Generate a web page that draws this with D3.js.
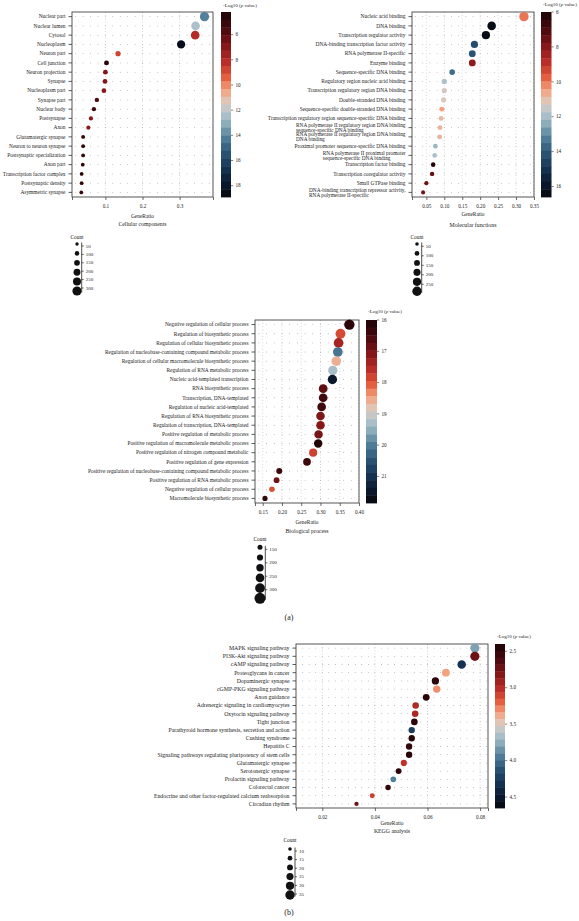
<!DOCTYPE html>
<html><head><meta charset="utf-8">
<script src="https://cdn.jsdelivr.net/npm/d3@7/dist/d3.min.js"></script>
<style>
body{margin:0;background:#fff}
svg{display:block}
text{font-family:"Liberation Serif","DejaVu Serif",serif;fill:#222}
</style></head>
<body><svg id="c" width="579" height="921"></svg>
<script>
// ---------------- DATA ----------------
const ccTerms = ["Nuclear part","Nuclear lumen","Cytosol","Nucleoplasm","Neuron part","Cell junction","Neuron projection","Synapse","Nucleoplasm part","Synapse part","Nuclear body","Postsynapse","Axon","Glutamatergic synapse","Neuron to neuron synapse","Postsynaptic specialization","Axon part","Transcription factor complex","Postsynaptic density","Asymmetric synapse"];
const ccRatio = [0.367,0.343,0.342,0.304,0.134,0.103,0.100,0.099,0.096,0.077,0.069,0.061,0.054,0.040,0.040,0.040,0.039,0.036,0.036,0.035];
const ccLogP  = [14.2,12.4,8.0,18.5,8.8,4.6,6.9,6.9,7.0,5.7,5.1,6.9,7.1,4.8,4.8,4.9,4.9,4.9,4.9,4.9];
const ccCount = [300,275,275,260,130,115,112,110,108,95,90,85,80,70,70,70,68,66,66,64];
const ccXTicks = [0.1,0.2,0.3];
const ccColorTicks = [6,8,10,12,14,16,18];
const ccLegendCounts = [50,100,150,200,250,300];
const ccLegendTicks = [50,100,150,200,250,300];

const mfTerms = ["Nucleic acid binding","DNA binding","Transcription regulator activity","DNA-binding transcription factor activity","RNA polymerase II-specific","Enzyme binding","Sequence-specific DNA binding","Regulatory region nucleic acid binding","Transcription regulatory region DNA binding","Double-stranded DNA binding","Sequence-specific double-stranded DNA binding","Transcription regulatory region sequence-specific DNA binding","RNA polymerase II regulatory region DNA binding\nsequence-specific DNA binding","RNA polymerase II regulatory region DNA binding\nDNA binding","Proximal promoter sequence-specific DNA binding","RNA polymerase II proximal promoter\nsequence-specific DNA binding","Transcription factor binding","Transcription coregulator activity","Small GTPase binding","DNA-binding transcription repressor activity,\nRNA polymerase II-specific"];
const mfRatio = [0.322,0.232,0.216,0.184,0.178,0.178,0.122,0.100,0.100,0.098,0.093,0.091,0.088,0.087,0.075,0.073,0.069,0.066,0.050,0.041];
const mfLogP  = [10.0,16.4,16.4,14.3,14.1,8.1,13.6,11.9,11.3,11.2,10.45,10.9,10.8,10.8,12.15,11.95,6.2,7.4,7.5,7.6];
const mfCount = [300,265,250,205,190,190,135,120,115,113,110,108,105,103,95,93,90,88,75,70];
const mfXTicks = [0.05,0.10,0.15,0.20,0.25,0.30,0.35];
const mfColorTicks = [6,8,10,12,14,16];
const mfLegendCounts = [50,100,150,200,250,300];
const mfLegendTicks = [50,100,150,200,250];

const bpTerms = ["Negative regulation of cellular process","Regulation of biosynthetic process","Regulation of cellular biosynthetic process","Regulation of nucleobase-containing compound metabolic process","Regulation of cellular macromolecule biosynthetic process","Regulation of RNA metabolic process","Nucleic acid-templated transcription","RNA biosynthetic process","Transcription, DNA-templated","Regulation of nucleic acid-templated","Regulation of RNA biosynthetic process","Regulation of transcription, DNA-templated","Positive regulation of metabolic process","Positive regulation of macromolecule metabolic process","Positive regulation of nitrogen compound metabolic","Positive regulation of gene expression","Positive regulation of nucleobase-containing compound metabolic process","Positive regulation of RNA metabolic process","Negative regulation of cellular process","Macromolecule biosynthetic process"];
const bpHighlight = ["Regulation of cellular macromolecule biosynthetic process","Positive regulation of macromolecule metabolic process","Macromolecule biosynthetic process"];
const bpRatio = [0.375,0.352,0.347,0.345,0.341,0.332,0.331,0.307,0.307,0.303,0.300,0.300,0.295,0.294,0.281,0.265,0.193,0.186,0.174,0.156];
const bpLogP  = [16.2,17.9,17.4,20.1,18.6,19.3,21.45,16.75,16.45,16.45,17.05,17.1,16.95,16.1,17.8,16.4,16.4,16.9,17.95,16.25];
const bpCount = [375,352,347,345,341,332,331,307,306,303,300,299,295,294,281,265,193,186,174,156];
const bpXTicks = [0.15,0.20,0.25,0.30,0.35,0.40];
const bpColorTicks = [16,17,18,19,20,21];
const bpLegendCounts = [150,200,250,300,350,400];
const bpLegendTicks = [150,200,250,300];

const keggTerms = ["MAPK signaling pathway","PI3K-Akt signaling pathway","cAMP signaling pathway","Proteoglycans in cancer","Dopaminergic synapse","cGMP-PKG signaling pathway","Axon guidance","Adrenergic signaling in cardiomyocytes","Oxytocin signaling pathway","Tight junction","Parathyroid hormone synthesis, secretion and action","Cushing syndrome","Hepatitis C","Signaling pathways regulating pluripotency of stem cells","Glutamatergic synapse","Serotonergic synapse","Prolactin signaling pathway","Colorectal cancer","Endocrine and other factor-regulated calcium reabsorption","Circadian rhythm"];
const keggRatio = [0.078,0.078,0.073,0.067,0.063,0.0635,0.0595,0.0555,0.0553,0.055,0.054,0.054,0.053,0.053,0.051,0.049,0.047,0.045,0.039,0.033];
const keggLogP  = [3.8,2.74,4.31,3.35,2.47,3.3,2.47,2.98,2.96,2.49,4.25,2.47,2.51,2.47,3.03,2.49,3.93,2.51,3.08,2.74];
const keggCount = [34,34,31,28,26,26,24,23,23,23,22,22,22,22,21,20,19,18,16,13];
const keggXTicks = [0.02,0.04,0.06,0.08];
const keggColorTicks = [2.5,3.0,3.5,4.0,4.5];
const keggLegendCounts = [10,15,20,25,30,35];
const keggLegendTicks = [10,15,20,25,30,35];

// ---------------- STYLE ----------------
const rampStops = [[0,"#1a0406"],[0.1,"#4d0a0f"],[0.2,"#8e1a1c"],[0.28,"#bf3129"],[0.35,"#e35a3c"],[0.42,"#f4a07c"],[0.48,"#e2c5b5"],[0.54,"#b9c8cf"],[0.61,"#88aab8"],[0.68,"#527f9a"],[0.76,"#2b5576"],[0.85,"#163252"],[0.93,"#0b182d"],[1,"#05070d"]];
const ramp = d3.scaleLinear().domain(rampStops.map(s=>s[0])).range(rampStops.map(s=>s[1])).interpolate(d3.interpolateRgb).clamp(true);
const NB = 24;
const svg = d3.select("#c");

function drawPanel(p){
  const g = svg.append("g");
  const n = p.terms.length;
  const fs = p.labelSize || 5.4;
  const x = d3.scaleLinear().domain(p.xDomain).range([p.left,p.right]);
  const y = d3.scalePoint().domain(d3.range(n)).range([p.top,p.bottom]).padding(0.5);
  const cs = d3.scaleLinear().domain(p.cDomain).range([0,1]).clamp(true);
  const color = v => ramp(cs(v));
  const r = d3.scaleLinear().domain([p.legendCounts[0],p.legendCounts[p.legendCounts.length-1]]).range(p.rRange);

  // grid dots
  const gx = d3.range(p.gridStart, p.xDomain[1], p.gridStep);
  const grid = g.append("g");
  d3.range(n).forEach(i=>{
    gx.forEach(v=>{
      grid.append("circle").attr("cx",x(v)).attr("cy",y(i)).attr("r",0.42).attr("fill","#777");
    });
  });
  p.xTicks.forEach(t=>{
    g.append("line").attr("x1",x(t)).attr("x2",x(t)).attr("y1",p.top).attr("y2",p.bottom)
      .attr("stroke","#999").attr("stroke-width",0.5).attr("stroke-dasharray","0.8,2.4");
  });
  g.append("rect").attr("x",p.left).attr("y",p.top).attr("width",p.right-p.left).attr("height",p.bottom-p.top)
    .attr("fill","none").attr("stroke","#444").attr("stroke-width",0.9);

  // x axis
  const endTicks = [p.xDomain[0],p.xDomain[1]].filter(v=>!p.xTicks.some(t=>Math.abs(t-v)<1e-9));
  const xa = d3.axisBottom(x).tickValues(p.xTicks.concat(endTicks)).tickSize(3).tickPadding(4.5)
    .tickFormat(v => endTicks.includes(v) ? "" : d3.format(p.xFmt)(v));
  const xg = g.append("g").attr("transform",`translate(0,${p.bottom})`).call(xa);
  xg.select(".domain").remove();
  xg.selectAll("line").attr("stroke","#444").attr("stroke-width",0.8);
  xg.selectAll("text").attr("font-size",5.2).attr("font-family","Liberation Serif").attr("fill","#222");

  // y axis ticks + labels
  const yg = g.append("g");
  d3.range(n).forEach(i=>{
    yg.append("line").attr("x1",p.left-3.5).attr("x2",p.left).attr("y1",y(i)).attr("y2",y(i)).attr("stroke","#333").attr("stroke-width",0.8);
    const lines = p.terms[i].split("\n");
    const red = p.highlight && p.highlight.includes(p.terms[i]);
    const t = yg.append("text").attr("font-size",fs).attr("fill",red?"#d4402c":"#222");
    if(lines.length===1){
      t.attr("x",p.left-6.5).attr("y",y(i)).attr("dy","0.33em").attr("text-anchor","end").text(lines[0]);
    } else {
      t.attr("font-size",5.3);
      lines.forEach((ln,k)=>{
        t.append("tspan").attr("x",0).attr("y",y(i)+(k===0?-2.3:2.5)).attr("dy","0.33em").text(ln);
      });
      const w = d3.max(t.selectAll("tspan").nodes(),nd=>nd.getComputedTextLength());
      t.attr("text-anchor","start").selectAll("tspan").attr("x",p.left-6.5-w);
    }
  });

  // bubbles
  g.append("g").selectAll("circle").data(d3.range(n)).join("circle")
    .attr("cx",i=>x(p.ratio[i])).attr("cy",i=>y(i)).attr("r",i=>r(p.count[i]))
    .attr("fill",i=>color(p.logp[i]));

  // titles
  g.append("text").attr("x",(p.left+p.right)/2).attr("y",p.xTitleY).attr("text-anchor","middle").attr("font-size",5.4).text("GeneRatio");
  g.append("text").attr("x",(p.left+p.right)/2).attr("y",p.panelTitleY).attr("text-anchor","middle").attr("font-size",5.8).text(p.title);

  // colorbar
  const cbH = p.bottom - p.top;
  const cb = g.append("g");
  d3.range(NB).forEach(k=>{
    cb.append("rect").attr("x",p.cbX).attr("y",p.top + k*cbH/NB).attr("width",p.cbW).attr("height",cbH/NB+0.4)
      .attr("fill",ramp((k+0.5)/NB));
  });
  const cy = d3.scaleLinear().domain(p.cDomain).range([p.top,p.bottom]);
  p.colorTicks.forEach(t=>{
    cb.append("line").attr("x1",p.cbX+p.cbW).attr("x2",p.cbX+p.cbW+2.2).attr("y1",cy(t)).attr("y2",cy(t)).attr("stroke","#333").attr("stroke-width",0.6);
    cb.append("text").attr("x",p.cbX+p.cbW+4.5).attr("y",cy(t)).attr("dy","0.33em").attr("font-size",5.2).text(d3.format(p.cFmt)(t));
  });
  const ct = cb.append("text").attr("x",p.cbTitleX).attr("y",p.cbTitleY).attr("font-size",5);
  ct.append("tspan").text("-Log10 (");
  ct.append("tspan").attr("font-style","italic").text("p");
  ct.append("tspan").text(" value)");

  // size legend
  const L = p.leg;
  const lg = g.append("g");
  lg.append("text").attr("x",L.x).attr("y",L.titleY).attr("text-anchor","middle").attr("font-size",5.4).text("Count");
  p.legendCounts.forEach((c,k)=>{
    lg.append("circle").attr("cx",L.x).attr("cy",L.dotY0+k*L.step).attr("r",r(c)).attr("fill","#111");
  });
  const ly = d3.scaleLinear().domain([p.legendTicks[0],p.legendTicks[p.legendTicks.length-1]]).range([L.tickY0,L.tickY1]);
  lg.append("line").attr("x1",L.axisX).attr("x2",L.axisX).attr("y1",L.dotY0-1.5).attr("y2",L.dotY0+(p.legendCounts.length-1)*L.step+1.5)
    .attr("stroke","#222").attr("stroke-width",0.8);
  p.legendTicks.forEach(t=>{
    lg.append("line").attr("x1",L.axisX).attr("x2",L.axisX+2).attr("y1",ly(t)).attr("y2",ly(t)).attr("stroke","#222").attr("stroke-width",0.7);
    lg.append("text").attr("x",L.axisX+4).attr("y",ly(t)).attr("dy","0.33em").attr("font-size",5).text(t);
  });
}

drawPanel({terms:ccTerms,ratio:ccRatio,logp:ccLogP,count:ccCount,xTicks:ccXTicks,colorTicks:ccColorTicks,
  legendCounts:ccLegendCounts,legendTicks:ccLegendTicks,
  left:72,right:213,top:12,bottom:197,xDomain:[0.01,0.39],xFmt:".1f",gridStart:0.02,gridStep:0.02,
  cDomain:[4.2,18.9],cFmt:"d",cbX:221,cbW:10,cbTitleX:223,cbTitleY:7,rRange:[1.7,4.6],
  xTitleY:217.5,panelTitleY:226,title:"Cellular components",
  leg:{x:77,titleY:239,dotY0:244,step:9.4,axisX:81.7,tickY0:246,tickY1:288}});

drawPanel({terms:mfTerms,ratio:mfRatio,logp:mfLogP,count:mfCount,xTicks:mfXTicks,colorTicks:mfColorTicks,
  legendCounts:mfLegendCounts,legendTicks:mfLegendTicks,
  left:412,right:534,top:12,bottom:197,xDomain:[0.01,0.35],xFmt:".2f",gridStart:0.02,gridStep:0.02,
  cDomain:[6,16.6],cFmt:"d",cbX:541,cbW:10.5,cbTitleX:543,cbTitleY:6,rRange:[1.8,4.7],
  xTitleY:215.5,panelTitleY:226.5,title:"Molecular functions",
  leg:{x:417,titleY:239,dotY0:244,step:9.45,axisX:421.7,tickY0:246.3,tickY1:284.3}});

drawPanel({terms:bpTerms,ratio:bpRatio,logp:bpLogP,count:bpCount,xTicks:bpXTicks,colorTicks:bpColorTicks,
  legendCounts:bpLegendCounts,legendTicks:bpLegendTicks,highlight:bpHighlight,
  left:255,right:359,top:320,bottom:503,xDomain:[0.13,0.40],xFmt:".2f",gridStart:0.14,gridStep:0.02,
  cDomain:[16,21.85],cFmt:"d",cbX:366,cbW:11,cbTitleX:368,cbTitleY:313,rRange:[2.5,5.5],
  xTitleY:523.5,panelTitleY:533,title:"Biological process",
  leg:{x:260,titleY:541,dotY0:547.3,step:10.2,axisX:265.3,tickY0:549.3,tickY1:589.7}});

drawPanel({terms:keggTerms,ratio:keggRatio,logp:keggLogP,count:keggCount,xTicks:keggXTicks,colorTicks:keggColorTicks,
  legendCounts:keggLegendCounts,legendTicks:keggLegendTicks,labelSize:5.8,
  left:296,right:488,top:644,bottom:808,xDomain:[0.01,0.083],xFmt:".2f",gridStart:0.0125,gridStep:0.0025,
  cDomain:[2.4,4.65],cFmt:".1f",cbX:495,cbW:10,cbTitleX:497,cbTitleY:638,rRange:[1.8,4.7],
  xTitleY:825,panelTitleY:833,title:"KEGG analysis",
  leg:{x:290,titleY:842,dotY0:849,step:9.2,axisX:295,tickY0:851,tickY1:894}});

svg.append("text").attr("x",289).attr("y",620).attr("text-anchor","middle").attr("font-size",8).text("(a)");
svg.append("text").attr("x",289).attr("y",915).attr("text-anchor","middle").attr("font-size",8).text("(b)");
</script></body></html>
